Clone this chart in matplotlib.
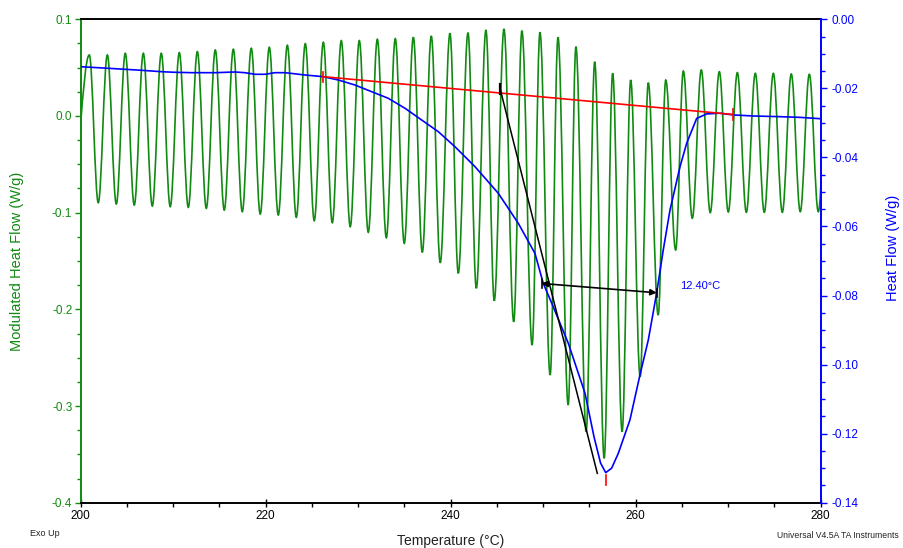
import matplotlib
matplotlib.use("Agg")
import matplotlib.pyplot as plt
from matplotlib.path import Path
from matplotlib.patches import PathPatch
from matplotlib.ticker import MultipleLocator, FormatStrFormatter

# ---------------- data ----------------
# Modulated heat flow: per-cycle troughs and peaks (left axis, W/g)
trough_T = [198.98, 201.90, 203.85, 205.79, 207.74, 209.68, 211.63, 213.58, 215.52, 217.47,
            219.41, 221.36, 223.31, 225.25, 227.20, 229.14, 231.09, 233.04, 234.98, 236.93,
            238.87, 240.82, 242.77, 244.71, 246.81, 248.80, 250.75, 252.70, 254.64, 256.59,
            258.53, 260.48, 262.43, 264.32, 266.12, 268.06, 270.01, 271.96, 273.90, 275.85,
            277.79, 279.74]
trough_mhf = [-0.088, -0.0897, -0.0910, -0.0921, -0.0931, -0.0938, -0.0945, -0.0955, -0.0973, -0.0990,
              -0.1014, -0.1024, -0.1048, -0.1083, -0.1104, -0.1145, -0.1203, -0.1259, -0.1317, -0.1410,
              -0.1518, -0.1627, -0.1782, -0.1911, -0.2128, -0.2369, -0.2679, -0.2989, -0.3266, -0.3541,
              -0.3266, -0.2697, -0.2059, -0.1386, -0.1058, -0.1000, -0.0993, -0.0996, -0.0996, -0.0996,
              -0.0990, -0.0990]
peak_T = [200.93, 202.88, 204.82, 206.77, 208.71, 210.66, 212.61, 214.55, 216.50, 218.44,
          220.39, 222.34, 224.28, 226.23, 228.17, 230.12, 232.07, 234.01, 235.96, 237.90,
          239.92, 241.87, 243.81, 245.76, 247.70, 249.65, 251.60, 253.54, 255.57, 257.51,
          259.46, 261.36, 263.25, 265.15, 267.09, 269.04, 270.99, 272.93, 274.88, 276.82,
          278.77, 280.72]
peak_mhf = [0.0631, 0.0631, 0.0648, 0.0648, 0.0648, 0.0655, 0.0665, 0.0682, 0.0690, 0.0700,
            0.0710, 0.0731, 0.0748, 0.0762, 0.0779, 0.0779, 0.0793, 0.0799, 0.0814, 0.0827,
            0.0855, 0.0861, 0.0889, 0.0900, 0.0882, 0.0866, 0.0814, 0.0717, 0.0561, 0.0441,
            0.0372, 0.0344, 0.0372, 0.0465, 0.0476, 0.0458, 0.0448, 0.0441, 0.0441, 0.0434,
            0.0431, 0.0430]

# Total heat flow (right axis, W/g)
hf_T = [200.0, 202.98, 204.79, 206.59, 208.76, 210.19, 212.0, 214.52, 216.68, 217.76,
        218.84, 219.92, 221.0, 222.09, 224.25, 226.23, 227.85, 229.65, 231.46, 233.25,
        235.06, 236.86, 238.66, 240.46, 242.63, 245.15, 247.31, 249.11, 250.01, 250.92,
        252.71, 254.52, 255.5, 256.2, 256.76, 257.4, 258.12, 259.38, 260.46, 261.36,
        262.27, 262.98, 263.71, 264.79, 265.51, 266.59, 267.68, 269.11, 270.55, 272.71,
        275.6, 277.76, 280.0]
hf = [-0.01373, -0.01419, -0.01448, -0.01477, -0.01518, -0.01535, -0.01546, -0.01546, -0.01526, -0.01546,
      -0.01593, -0.01593, -0.01546, -0.01546, -0.01613, -0.01662, -0.01758, -0.01903, -0.02097, -0.02288,
      -0.02577, -0.02916, -0.03255, -0.0369, -0.04269, -0.0504, -0.0591, -0.0678, -0.0765, -0.0822,
      -0.0938, -0.1083, -0.1210, -0.1285, -0.1313, -0.1300, -0.1257, -0.1160, -0.1030, -0.0929,
      -0.0792, -0.0668, -0.0552, -0.0427, -0.0359, -0.0287, -0.0274, -0.0272, -0.0277, -0.0280,
      -0.0282, -0.0284, -0.0288]

# Analysis annotations
baseline_T = [226.23, 270.52]
baseline_hf = [-0.01662, -0.02757]
tangent_T = [245.33, 255.85]
tangent_hf = [-0.0200, -0.1315]
width_T = [249.82, 262.27]
width_hf = [-0.0765, -0.0792]
peak_T_hf = 256.76
peak_val_hf = -0.1313
width_label = "12.40°C"

x_ticks = [200, 220, 240, 260, 280]

# ---------------- style ----------------
GREEN = "#118a11"
BLUE = "#0000ff"
RED = "#ff0000"
plt.rcParams['font.family'] = ['Liberation Sans', 'DejaVu Sans']
NARROW = ['Liberation Sans Narrow', 'Liberation Sans', 'DejaVu Sans']

W, H = 904, 548
fig = plt.figure(figsize=(W / 100, H / 100), dpi=100)
left, right, top, bottom = 80.7, 820.7, 19.3, 502.7
ax = fig.add_axes([left / W, 1 - bottom / H, (right - left) / W, (bottom - top) / H])
ax2 = ax.twinx()

# ---- modulated heat flow as a smooth wave through the extrema ----
ext_T, ext_v = [], []
for tT, tv, pT, pv in zip(trough_T, trough_mhf, peak_T, peak_mhf):
    ext_T += [tT, pT]
    ext_v += [tv, pv]
a = 1 - 2 / 3.141592653589793
verts = [(ext_T[0], ext_v[0])]
codes = [Path.MOVETO]
for i in range(1, len(ext_T)):
    x0, y0 = ext_T[i - 1], ext_v[i - 1]
    x1, y1 = ext_T[i], ext_v[i]
    w = x1 - x0
    verts += [(x0 + a * w, y0), (x1 - a * w, y1), (x1, y1)]
    codes += [Path.CURVE4] * 3
wave = PathPatch(Path(verts, codes), fill=False, edgecolor=GREEN, lw=1.2,
                 transform=ax.transData)
ax.add_patch(wave)

ax.set_xlim(200, 280)
ax.set_ylim(-0.4, 0.1)
ax2.set_ylim(-0.14, 0.0)

# ---- total heat flow and analysis ----
ax2.plot(hf_T, hf, color=BLUE, lw=1.2, zorder=3)
ax2.plot(baseline_T, baseline_hf, color=RED, lw=1.2, zorder=4)
for bx, by in zip(baseline_T, baseline_hf):
    ax2.plot([bx, bx], [by - 0.0015, by + 0.0015], color=RED, lw=1.2, zorder=4)
ax2.plot([peak_T_hf, peak_T_hf], [peak_val_hf - 0.0008, peak_val_hf - 0.0035], color=RED, lw=1.2, zorder=4)
ax2.plot(tangent_T, tangent_hf, color="black", lw=1.1, zorder=5)
ax2.plot([tangent_T[0], tangent_T[0]], [tangent_hf[0] + 0.0012, tangent_hf[0] - 0.0015],
         color="black", lw=1.6, zorder=5)
ax2.annotate("", xy=(width_T[0], width_hf[0]), xytext=(width_T[1], width_hf[1]),
             arrowprops=dict(arrowstyle="<|-|>", color="black", lw=1.2,
                             mutation_scale=9, shrinkA=0, shrinkB=0), zorder=5)
ax2.plot([width_T[0], width_T[0]], [width_hf[0] + 0.0012, width_hf[0] - 0.0012], color="black", lw=1.2, zorder=5)
ax2.plot([width_T[1], width_T[1]], [width_hf[1] + 0.0012, width_hf[1] - 0.0012], color="black", lw=1.2, zorder=5)
ax2.text(264.82, -0.0771, width_label, color=BLUE, fontsize=8, family=NARROW,
         ha="left", va="center")

# ---- axes styling ----
ax.set_xticks(x_ticks)
ax.xaxis.set_minor_locator(MultipleLocator(5))
ax.yaxis.set_major_locator(MultipleLocator(0.1))
ax.yaxis.set_minor_locator(MultipleLocator(0.025))
ax.yaxis.set_major_formatter(FormatStrFormatter('%.1f'))
ax2.yaxis.set_major_locator(MultipleLocator(0.02))
ax2.yaxis.set_minor_locator(MultipleLocator(0.005))
ax2.yaxis.set_major_formatter(FormatStrFormatter('%.2f'))

ax.tick_params(axis='x', which='major', direction='inout', length=6, width=1, labelsize=8.5,
               pad=2, colors='black')
ax.tick_params(axis='x', which='minor', direction='out', length=3, width=1)
ax.tick_params(axis='y', which='major', direction='out', length=4, width=1, labelsize=8.5,
               pad=2, colors=GREEN)
ax.tick_params(axis='y', which='minor', direction='out', length=3, width=1, colors=GREEN)
ax2.tick_params(axis='y', which='major', direction='out', length=4, width=1, labelsize=8.5,
                pad=4, colors=BLUE)
ax2.tick_params(axis='y', which='minor', direction='out', length=3, width=1, colors=BLUE)

for s in ['left', 'right', 'top', 'bottom']:
    ax.spines[s].set_linewidth(1.4)
    ax2.spines[s].set_linewidth(1.4)
ax.spines['left'].set_color(GREEN)
ax.spines['right'].set_visible(False)
ax.spines['top'].set_color('black')
ax.spines['bottom'].set_color('black')
ax2.spines['left'].set_visible(False)
ax2.spines['top'].set_visible(False)
ax2.spines['bottom'].set_visible(False)
ax2.spines['right'].set_color(BLUE)

ax.set_xlabel("Temperature (°C)", fontsize=10, family=NARROW, color='#222222')
ax.xaxis.set_label_coords(0.5, -0.079)
ax.xaxis.label.set_va('center')
ax.set_ylabel("Modulated Heat Flow (W/g)", fontsize=10.5, color=GREEN)
ax.yaxis.set_label_coords(-0.086, 0.5)
ax.yaxis.label.set_va('center')
ax2.set_ylabel("Heat Flow (W/g)", fontsize=10.5, color=BLUE, rotation=90)
ax2.yaxis.set_label_coords(1.0977, 0.527)
ax2.yaxis.label.set_va('center')

fig.text(45 / W, 1 - 533 / H, "Exo Up", fontsize=6.5, ha='center', va='center', color='#222222')
fig.text(899 / W, 1 - 535 / H, "Universal V4.5A TA Instruments", fontsize=6.2,
         ha='right', va='center', color='#222222')

fig.savefig("out.png", dpi=100, facecolor='white')
